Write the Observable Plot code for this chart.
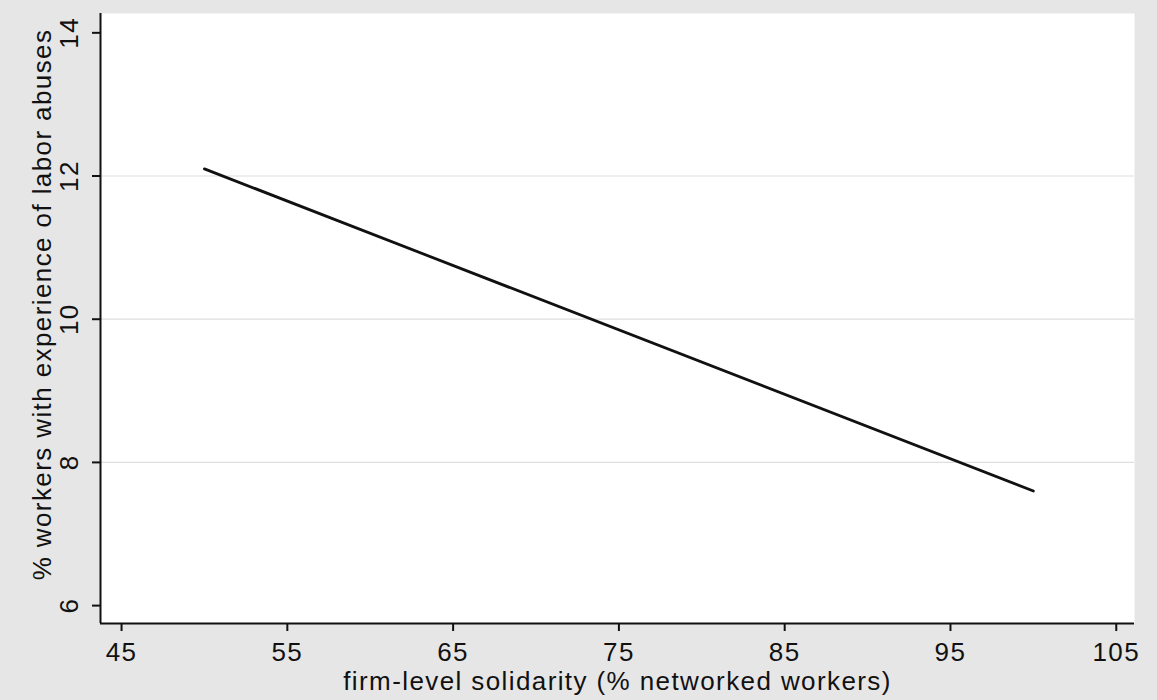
<!DOCTYPE html>
<html>
<head>
<meta charset="utf-8">
<script src="https://cdn.jsdelivr.net/npm/d3@7"></script>
<script src="https://cdn.jsdelivr.net/npm/@observablehq/plot@0.6"></script>
<style>
  html, body { margin: 0; padding: 0; background: #e6e6e6; }
  #chart { width: 1157px; height: 700px; }
  #chart svg text { letter-spacing: 1.4px; }
</style>
</head>
<body>
<div id="chart"></div>
<script>
// Data
const fitX = [50, 100];          // firm-level solidarity (% networked workers)
const fitY = [12.1, 7.6];        // % workers with experience of labor abuses
const xTicks = [45, 55, 65, 75, 85, 95, 105];
const yTicks = [6, 8, 10, 12, 14];
const gridY = [8, 10, 12];
const xTitle = "firm-level solidarity (% networked workers)";
const yTitle = "% workers with experience of labor abuses";

const line = fitX.map((x, i) => ({x, y: fitY[i]}));
const xDomain = [43.73, 106.1];
const yDomain = [5.75, 14.27];

const chart = Plot.plot({
  width: 1157,
  height: 700,
  marginLeft: 100,
  marginRight: 23,
  marginTop: 13,
  marginBottom: 77,
  style: {background: "transparent", fontFamily: "'Liberation Sans', Arial, sans-serif", fontSize: "26px", color: "#111"},
  x: {domain: xDomain},
  y: {domain: yDomain},
  marks: [
    Plot.frame({fill: "white", stroke: null}),
    Plot.ruleY(gridY, {stroke: "#dedede", strokeWidth: 1.2}),
    Plot.axisX(xTicks, {tickSize: 8, tickPadding: 11, label: null, fontSize: 26, tickFormat: d => String(d), stroke: "#111", strokeWidth: 2}),
    Plot.axisY(yTicks, {tickSize: 8, tickPadding: 15, tickRotate: -90, label: null, fontSize: 26, tickFormat: d => String(d), stroke: "#111", strokeWidth: 2}),
    Plot.ruleX([xDomain[0]], {stroke: "#111", strokeWidth: 2}),
    Plot.ruleY([yDomain[0]], {stroke: "#111", strokeWidth: 2}),
    Plot.line(line, {x: "x", y: "y", stroke: "#111", strokeWidth: 2.8}),
    Plot.text([xTitle], {frameAnchor: "bottom", dy: 66, lineAnchor: "bottom", fill: "#111", fontSize: 26}),
    Plot.text([yTitle], {frameAnchor: "left", dx: -58, dy: -14, rotate: -90, textAnchor: "middle", fill: "#111", fontSize: 26})
  ]
});
document.getElementById("chart").appendChild(chart);
</script>
</body>
</html>
